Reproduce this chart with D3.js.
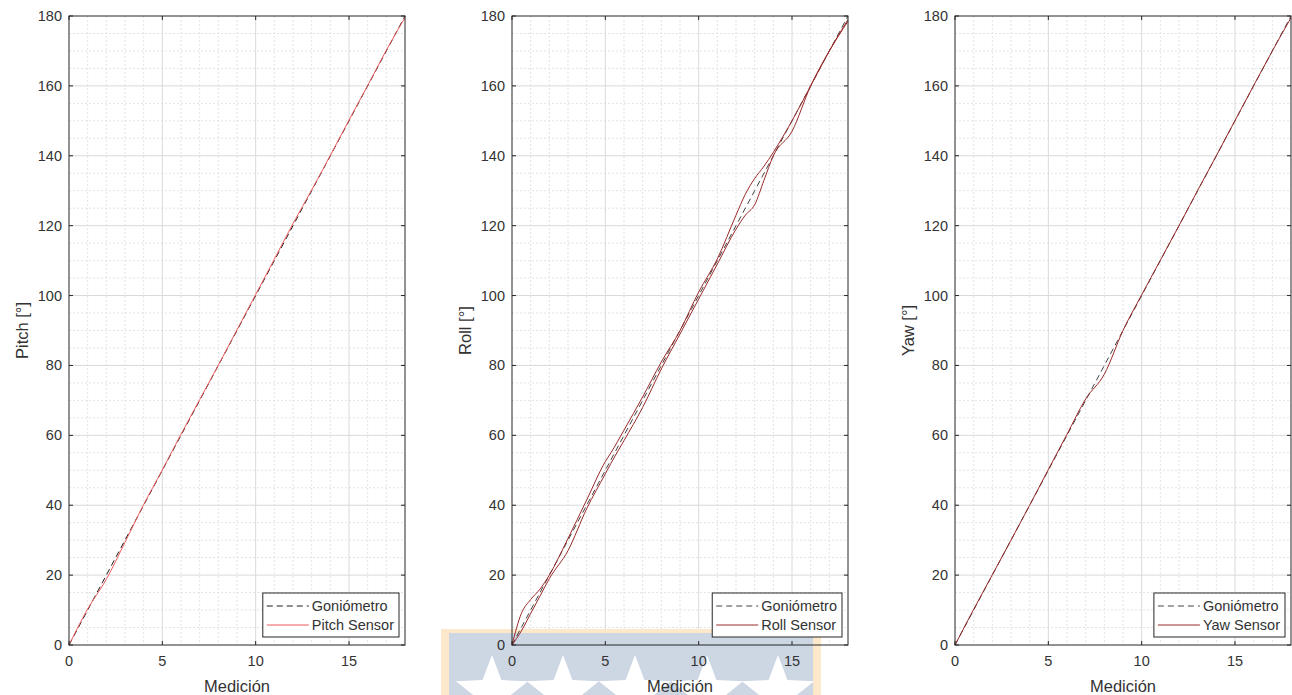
<!DOCTYPE html>
<html><head><meta charset="utf-8">
<script src="https://cdn.jsdelivr.net/npm/d3@7"></script>
<style>body{margin:0;background:#fff;}svg{display:block;}</style>
</head><body>
<svg id="c" width="1292" height="695"></svg>
<script>
// ---------------- data ----------------
const xTicks = [0, 5, 10, 15];
const yTicks = [0, 20, 40, 60, 80, 100, 120, 140, 160, 180];
const measX = [0,1,2,3,4,5,6,7,8,9,10,11,12,13,14,15,16,17,18];
const goniometro = [0,10,20,30,40,50,60,70,80,90,100,110,120,130,140,150,160,170,180];
const pitchSensor = [0,10.3,18.8,29.4,40.2,50.1,60.3,70.2,80.1,90.2,100.3,110.4,120.6,130.2,140.1,150.2,160.1,170.2,179.6];
const rollX = [0,0.5,1,1.5,2,3,4,5,5.3,6,7,8,9,10,11,12,12.5,13,13.5,14,15,16,17,18];
const rollSensorA = [0,9,13,16,20,30.5,41.5,52.5,55,61.5,71,81,90,101,110.5,123,129,133.5,137,141,150,160,170,178.5];
const rollSensorB = [0,4,9,14,19,27,39,49,52,58.5,68,79,89,99,109,119,123,126,133,140,147,160,170,179];
const yawSensor = [0,10.2,20.1,30,40,50.2,60.3,70.4,77.5,90,100.2,110.1,120,130.1,140,150.1,160.1,170,179.5];

const panels = [
  {left:69, ylabel:"Pitch [°]", sensorName:"Pitch Sensor", sensorColor:"#ee5a5a", gonColor:"#1a1a1a",
   series:[{x:measX, y:pitchSensor}]},
  {left:512, ylabel:"Roll [°]", sensorName:"Roll Sensor", sensorColor:"#9a2a2a", gonColor:"#444",
   series:[{x:rollX, y:rollSensorA},{x:rollX, y:rollSensorB}]},
  {left:955, ylabel:"Yaw [°]", sensorName:"Yaw Sensor", sensorColor:"#9a2a2a", gonColor:"#444",
   series:[{x:measX, y:yawSensor}]}
];

const svg = d3.select("#c");
const W = 336, plotTop = 16, plotBottom = 645;
const font = "'Liberation Sans', Arial, Helvetica, sans-serif";
const axisCol = "#262626";

panels.forEach((p, i) => {
  const x = d3.scaleLinear().domain([0, 18]).range([p.left, p.left + W]);
  const y = d3.scaleLinear().domain([0, 180]).range([plotBottom, plotTop]);
  p.g = svg.append("g");
  p.x = x; p.y = y;
  const g = p.g;
  g.append("g").selectAll("line").data(d3.range(1, 18).filter(v => v % 5 !== 0)).join("line")
    .attr("x1", d => x(d)).attr("x2", d => x(d)).attr("y1", plotTop).attr("y2", plotBottom)
    .attr("stroke", "#e3e3e3").attr("stroke-width", 1).attr("stroke-dasharray", "2,2");
  g.append("g").selectAll("line").data(d3.range(5, 180, 5).filter(v => v % 20 !== 0)).join("line")
    .attr("y1", d => y(d)).attr("y2", d => y(d)).attr("x1", p.left).attr("x2", p.left + W)
    .attr("stroke", "#e3e3e3").attr("stroke-width", 1).attr("stroke-dasharray", "2,2");
  g.append("g").selectAll("line").data(xTicks.slice(1)).join("line")
    .attr("x1", d => x(d)).attr("x2", d => x(d)).attr("y1", plotTop).attr("y2", plotBottom)
    .attr("stroke", "#d9d9d9").attr("stroke-width", 1);
  g.append("g").selectAll("line").data(yTicks.slice(1, -1)).join("line")
    .attr("y1", d => y(d)).attr("y2", d => y(d)).attr("x1", p.left).attr("x2", p.left + W)
    .attr("stroke", "#d9d9d9").attr("stroke-width", 1);
});

// watermark (middle bottom)
(function(){
  const wm = svg.append("g");
  wm.append("rect").attr("x", 441).attr("y", 629).attr("width", 380).attr("height", 70).attr("fill", "#fde8cc");
  wm.append("rect").attr("x", 449).attr("y", 633).attr("width", 364).attr("height", 66).attr("fill", "#cdd6e3");
  const star = (cx, cy, R) => {
    const pts = [];
    for (let k = 0; k < 10; k++) {
      const r = k % 2 === 0 ? R : R * 0.42;
      const a = -Math.PI / 2 + k * Math.PI / 5;
      pts.push([cx + r * Math.cos(a), cy + r * Math.sin(a)]);
    }
    return "M" + pts.map(q => q.join(",")).join("L") + "Z";
  };
  [492, 563, 635, 707, 778].forEach(cx => {
    wm.append("path").attr("d", star(cx, 693, 38)).attr("fill", "#ffffff");
  });
})();

panels.forEach((p, i) => {
  const g = svg.append("g");
  const x = p.x, y = p.y;
  const line = d3.line().x(d => x(d[0])).y(d => y(d[1])).curve(d3.curveMonotoneX);
  g.append("path").datum(measX.map((v, k) => [v, goniometro[k]]))
    .attr("d", d3.line().x(d => x(d[0])).y(d => y(d[1])))
    .attr("fill", "none").attr("stroke", p.gonColor).attr("stroke-width", 1).attr("stroke-dasharray", "6,4");
  p.series.forEach(s => {
    g.append("path").datum(s.x.map((v, k) => [v, s.y[k]]))
      .attr("d", line).attr("fill", "none").attr("stroke", p.sensorColor).attr("stroke-width", 1);
  });
  g.append("rect").attr("x", p.left).attr("y", plotTop).attr("width", W).attr("height", plotBottom - plotTop)
    .attr("fill", "none").attr("stroke", axisCol).attr("stroke-width", 1);
  xTicks.forEach(t => {
    g.append("line").attr("x1", x(t)).attr("x2", x(t)).attr("y1", plotBottom).attr("y2", plotBottom - 4).attr("stroke", axisCol);
    g.append("line").attr("x1", x(t)).attr("x2", x(t)).attr("y1", plotTop).attr("y2", plotTop + 4).attr("stroke", axisCol);
  });
  yTicks.forEach(t => {
    g.append("line").attr("x1", p.left).attr("x2", p.left + 4).attr("y1", y(t)).attr("y2", y(t)).attr("stroke", axisCol);
    g.append("line").attr("x1", p.left + W).attr("x2", p.left + W - 4).attr("y1", y(t)).attr("y2", y(t)).attr("stroke", axisCol);
  });
  g.append("g").selectAll("text").data(xTicks).join("text")
    .attr("x", d => x(d)).attr("y", 666).attr("text-anchor", "middle")
    .attr("font-family", font).attr("font-size", 14.5).attr("fill", "#333").text(d => d);
  g.append("g").selectAll("text").data(yTicks).join("text")
    .attr("x", p.left - 7).attr("y", d => y(d) + 5).attr("text-anchor", "end")
    .attr("font-family", font).attr("font-size", 14.5).attr("fill", "#333").text(d => d);
  g.append("text").attr("x", p.left + W / 2).attr("y", 692).attr("text-anchor", "middle")
    .attr("font-family", font).attr("font-size", 16.5).attr("fill", "#333").text("Medición");
  g.append("text").attr("transform", `translate(${p.left - 41},${(plotTop + plotBottom) / 2}) rotate(-90)`)
    .attr("text-anchor", "middle").attr("font-family", font).attr("font-size", 16.5).attr("fill", "#333").text(p.ylabel);
  const lg = g.append("g");
  const texts = ["Goniómetro", p.sensorName];
  const tmp = lg.append("text").attr("font-family", font).attr("font-size", 14.5).text(texts[0]);
  const w0 = tmp.node().getComputedTextLength();
  tmp.text(texts[1]);
  const w1 = tmp.node().getComputedTextLength();
  tmp.remove();
  const tw = Math.max(w0, w1);
  const lw = 4 + 42 + 3 + tw + 5;
  const lh = 44;
  const lx = p.left + W - 6 - lw, ly = plotBottom - 8 - lh;
  lg.append("rect").attr("x", lx).attr("y", ly).attr("width", lw).attr("height", lh)
    .attr("fill", "#fff").attr("stroke", axisCol).attr("stroke-width", 1);
  [0, 1].forEach(k => {
    const yy = ly + 13 + k * 19;
    lg.append("line").attr("x1", lx + 4).attr("x2", lx + 46).attr("y1", yy).attr("y2", yy)
      .attr("stroke", k === 0 ? p.gonColor : p.sensorColor).attr("stroke-width", 1)
      .attr("stroke-dasharray", k === 0 ? "6,4" : null);
    lg.append("text").attr("x", lx + 49).attr("y", yy + 5).attr("font-family", font).attr("font-size", 14.5)
      .attr("fill", "#333").text(texts[k]);
  });
});
</script>
</body></html>
